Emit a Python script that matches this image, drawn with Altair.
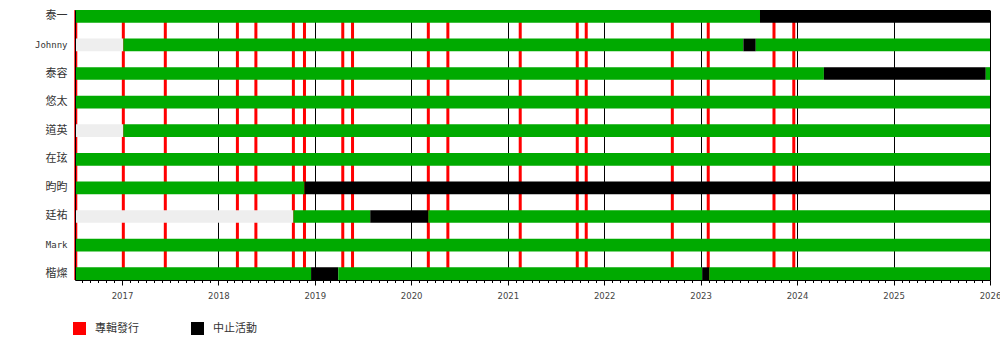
import altair as alt
import pandas as pd

members = ["泰一", "Johnny", "泰容", "悠太", "道英", "在玹", "昀昀", "廷祐", "Mark", "楷燦"]

START = "2016-07-07"
END = "2026-01-01"

ACTIVE = "活動"
HIATUS = "中止活動"
BEFORE = "未加入"
RELEASE = "專輯發行"

seg_member = [
    "泰一", "泰一",
    "Johnny", "Johnny", "Johnny", "Johnny",
    "泰容", "泰容", "泰容",
    "悠太",
    "道英", "道英",
    "在玹",
    "昀昀", "昀昀",
    "廷祐", "廷祐", "廷祐", "廷祐",
    "Mark",
    "楷燦", "楷燦", "楷燦", "楷燦", "楷燦",
]
seg_start = [
    START, "2023-08-14",
    START, "2017-01-06", "2023-06-12", "2023-07-29",
    START, "2024-04-12", "2025-12-16",
    START,
    START, "2017-01-06",
    START,
    START, "2018-11-23",
    START, "2018-10-12", "2019-07-30", "2020-03-06",
    START,
    START, "2018-12-18", "2019-03-31", "2023-01-07", "2023-02-03",
]
seg_end = [
    "2023-08-14", END,
    "2017-01-06", "2023-06-12", "2023-07-29", END,
    "2024-04-12", "2025-12-16", END,
    END,
    "2017-01-06", END,
    END,
    "2018-11-23", END,
    "2018-10-12", "2019-07-30", "2020-03-06", END,
    END,
    "2018-12-18", "2019-03-31", "2023-01-07", "2023-02-03", END,
]
seg_status = [
    ACTIVE, HIATUS,
    BEFORE, ACTIVE, HIATUS, ACTIVE,
    ACTIVE, HIATUS, ACTIVE,
    ACTIVE,
    BEFORE, ACTIVE,
    ACTIVE,
    ACTIVE, HIATUS,
    BEFORE, ACTIVE, HIATUS, ACTIVE,
    ACTIVE,
    ACTIVE, HIATUS, ACTIVE, HIATUS, ACTIVE,
]

release_dates = [
    "2016-07-10", "2017-01-06", "2017-06-14", "2018-03-14", "2018-05-23",
    "2018-10-12", "2018-11-23", "2019-04-17", "2019-05-24", "2020-03-06",
    "2020-05-19", "2021-02-17", "2021-09-21", "2021-10-25", "2022-09-16",
    "2023-01-30", "2023-10-06", "2023-12-20",
]

segments = pd.DataFrame({
    "member": seg_member,
    "start": seg_start,
    "end": seg_end,
    "status": seg_status,
})
releases = pd.DataFrame({"date": release_dates, "kind": [RELEASE] * len(release_dates)})

x_scale = alt.Scale(
    type="utc",
    domain=[alt.DateTime(year=2016, month=7, date=7, utc=True),
            alt.DateTime(year=2026, month=1, date=1, utc=True)],
    nice=False,
)

year_test = "utcmonth(datum.value) == 0 && utcdate(datum.value) == 1"

x_axis = alt.Axis(
    title=None,
    tickCount={"interval": "month", "step": 1},
    labelExpr="utcmonth(datum.value) == 0 ? utcFormat(datum.value, '%Y') : ''",
    labelOverlap=False,
    labelFlush=False,
    grid=True,
    gridColor="black",
    gridWidth=1,
    gridOpacity={"condition": {"test": year_test, "value": 1}, "value": 0},
    tickColor="black",
    tickSize={"condition": {"test": year_test, "value": 5}, "value": 2.5},
    domainColor="black",
    labelFont="DejaVu Sans",
    labelFontSize=8.5,
    labelColor="#444444",
    labelPadding=6,
)

y_scale = alt.Scale(domain=members, paddingInner=0.556, paddingOuter=0)
y_axis = alt.Axis(
    title=None,
    ticks=False,
    grid=False,
    domain=True,
    domainColor="black",
    labelPadding=8,
    labelFont="DejaVu Sans Mono, Noto Sans CJK TC",
    labelFontSize={"condition": {"test": "datum.value == 'Johnny' || datum.value == 'Mark'", "value": 9},
                   "value": 11},
    labelColor="#333333",
    zindex=1,
)

color_scale = alt.Scale(
    domain=[RELEASE, HIATUS, ACTIVE, BEFORE],
    range=["#ff0000", "#000000", "#00aa00", "#eeeeee"],
)

legend = alt.Legend(
    title=None,
    orient="none",
    legendX=-2,
    legendY=312,
    direction="horizontal",
    columns=2,
    symbolType="square",
    symbolSize=169,
    symbolStrokeWidth=0,
    symbolOpacity=1,
    labelFont="Noto Sans CJK TC",
    labelFontSize=11,
    labelColor="#333333",
    labelOffset=9,
    columnPadding=52,
    values=[RELEASE, HIATUS],
)

rules = alt.Chart(releases).mark_rule(color="#ff0000", strokeWidth=3).encode(
    x=alt.X("date:T", scale=x_scale, axis=x_axis),
)

bars = alt.Chart(segments).mark_bar(opacity=1).encode(
    x=alt.X("start:T", scale=x_scale, axis=x_axis),
    x2="end:T",
    y=alt.Y("member:N", scale=y_scale, axis=y_axis, sort=members),
    color=alt.Color("status:N", scale=color_scale, legend=legend),
)

chart = alt.layer(rules, bars).properties(
    width=915,
    height=270,
    autosize=alt.AutoSizeParams(type="none"),
    padding={"left": 75, "top": 10, "right": 10, "bottom": 75},
).configure_view(stroke=None)

chart.save("out.html", embed_options={"renderer": "svg", "actions": False})
